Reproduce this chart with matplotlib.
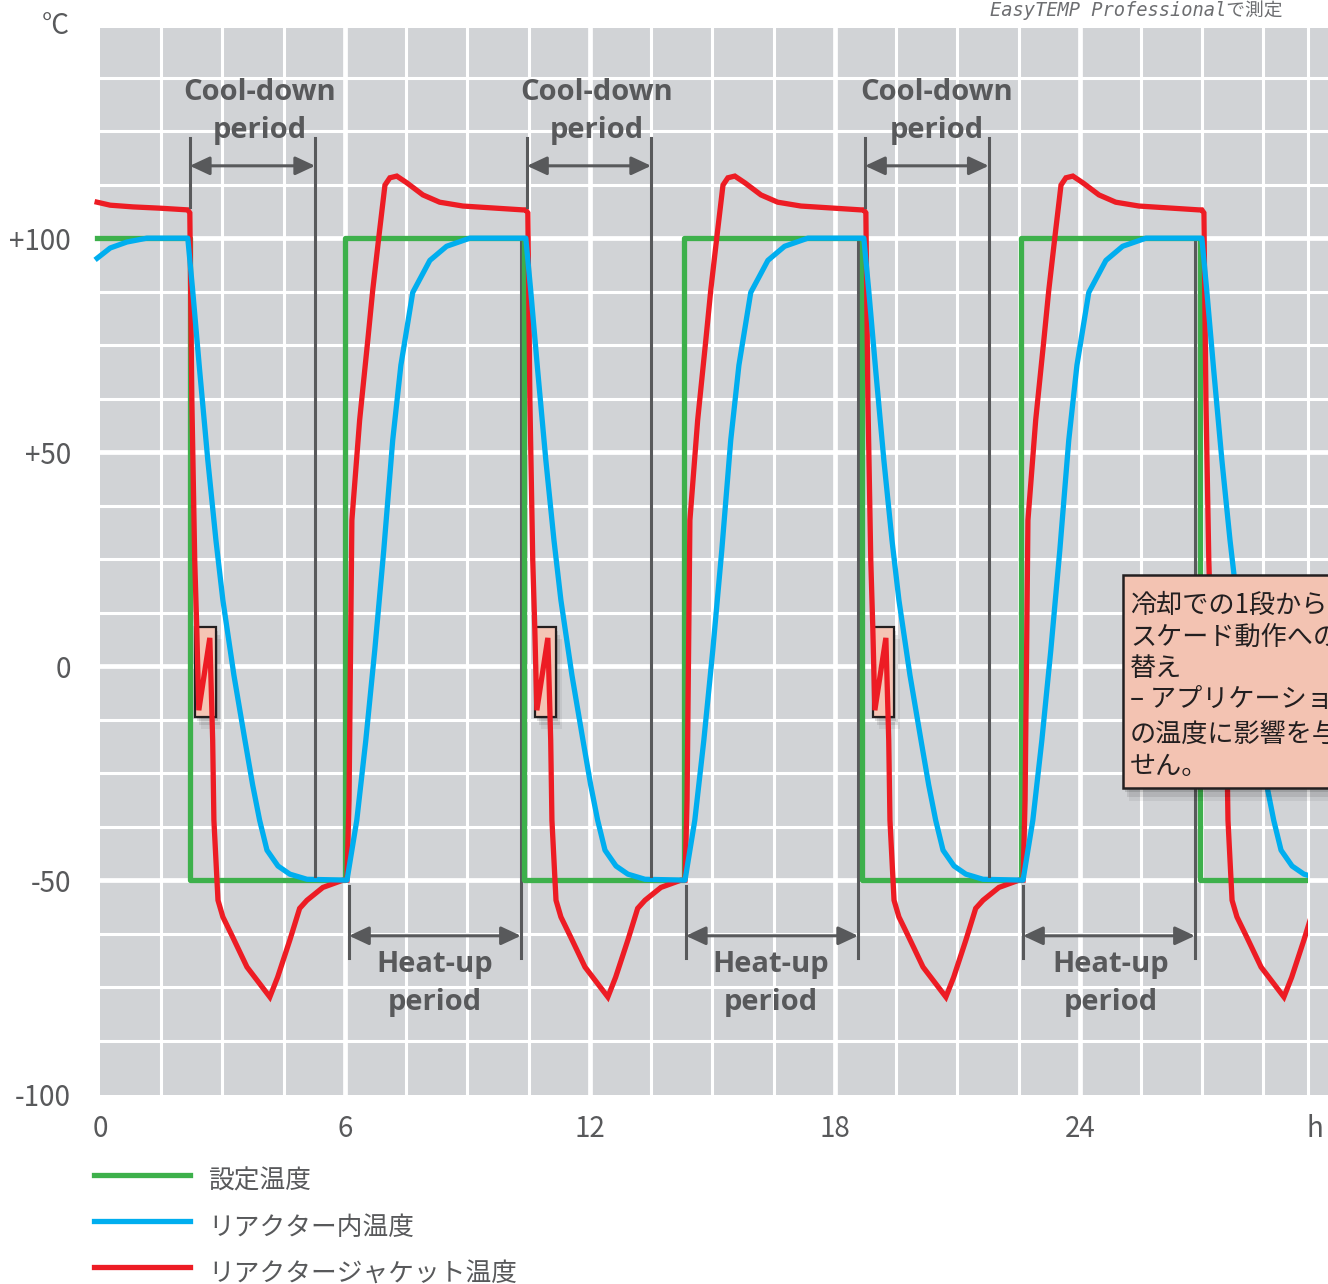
import numpy as np
import matplotlib
matplotlib.use("Agg")
import matplotlib.pyplot as plt
from matplotlib.patches import Rectangle
from matplotlib.lines import Line2D

plt.rcParams['font.family'] = ['Noto Sans CJK JP', 'DejaVu Sans']

# set temperature: switching times (h) and levels (degC)
set_t = [-0.07, 2.20, 6.00, 10.38, 14.30, 18.66, 22.56, 26.94, 29.58]
set_T = [100, -50, 100, -50, 100, -50, 100, -50, -50]

# start of each cool-down for the reactor / jacket curves (h)
cycle_start = [2.20, 10.48, 18.76, 27.04]
t_end = 29.58

# one cycle (h after start, degC)
blue_dt = [-0.05, 0.07, 0.24, 0.44, 0.64, 0.81, 1.08, 1.35, 1.54, 1.71, 1.89,
           2.16, 2.45, 2.87, 3.85, 4.09, 4.31, 4.53, 4.75, 4.97, 5.17, 5.46,
           5.88, 6.29, 6.86, 8.16]
blue_T = [100, 87.8, 69.2, 48.2, 29.4, 15.4, -2.1, -17.3, -27.8, -36.0, -43.0,
          -46.7, -48.6, -49.8, -50, -36.0, -17.4, 3.7, 27.0, 52.8, 70.3, 87.3,
          94.8, 98.1, 100, 100]

red_dt = [-0.05, 0.0, 0.05, 0.12, 0.17, 0.22, 0.49, 0.56, 0.59, 0.69, 0.81,
          1.05, 1.40, 1.96, 2.15, 2.45, 2.69, 2.87, 3.26, 3.75, 3.85, 3.90,
          3.97, 4.16, 4.36, 4.48, 4.65, 4.78, 4.90, 5.07, 5.32, 5.71, 6.12,
          6.69, 7.52, 8.16]
red_T = [106.6, 105.9, 62.2, 24.8, 8.9, -10.3, 6.6, -17.3, -36.0, -54.7, -58.6,
         -63.3, -70.3, -77.3, -72.7, -64.0, -56.6, -54.7, -51.7, -50.0, -50.0, -31.3,
         34.1, 57.5, 76.2, 87.8, 101.9, 112.4, 114.1, 114.5, 112.9, 110.1, 108.4,
         107.5, 107.0, 106.6]

# start of the chart, before the first cool-down
blue0_t = [-0.07, 0.25, 0.66, 1.15]
blue0_T = [95.3, 97.7, 99.1, 100.0]
red0_t = [-0.07, 0.25, 0.81, 1.47]
red0_T = [108.4, 107.7, 107.3, 107.0]

labels = ['設定温度', 'リアクター内温度', 'リアクタージャケット温度']
colors = ['#3db04b', '#00aeef', '#ed1c24']

cool_left = [2.20, 10.46, 18.74]
cool_right = [5.27, 13.50, 21.77]
cool_text_x = [3.92, 12.16, 20.49]
heat_left = [6.10, 14.35, 22.61]
heat_right = [10.31, 18.57, 26.82]
heat_text_x = [8.19, 16.43, 24.76]
box_x = [2.33, 10.65, 18.93]

note_lines = ['冷却での1段からカ', 'スケード動作への切り', '替え',
              '– アプリケーション', 'の温度に影響を与えま', 'せん。']
note_y = [14.3, 6.8, -0.5, -7.9, -15.9, -23.4]

grey = '#58595b'
bold = dict(fontsize=21, fontweight='bold', family=['Open Sans', 'DejaVu Sans'],
            color=grey, ha='center', va='center', zorder=7)
arrow = dict(arrowstyle='<|-|>,head_length=0.6,head_width=0.28', color=grey,
             lw=2.2, shrinkA=0, shrinkB=0, mutation_scale=20)


def build(t0, v0, dt, v):
    t = list(t0)
    T = list(v0)
    for s in cycle_start:
        t += [s + d for d in dt]
        T += list(v)
    return t, T


blue_t, blue_v = build(blue0_t, blue0_T, blue_dt, blue_T)
red_t, red_v = build(red0_t, red0_T, red_dt, red_T)

W, H = 1328, 1284
fig = plt.figure(figsize=(W / 100, H / 100), dpi=100)
ax = fig.add_axes([100 / W, 189 / H, 1228 / W, 1067 / H])
ax.set_facecolor('#d1d3d6')
ax.set_xlim(0, 30.08)
ax.set_ylim(-100.2, 149.1)
for s in ax.spines.values():
    s.set_visible(False)

# white grid
for x in list(np.arange(1.5, 29.0, 1.5)) + [29.6]:
    ax.axvline(x, color='white', lw=3.4 if abs(x % 6) < 1e-6 else 2.2, zorder=1)
for y in np.arange(-87.5, 150, 12.5):
    ax.axhline(y, color='white', lw=3.4 if abs(y % 50) < 1e-6 else 2.2, zorder=1)

ax.set_xticks([0, 6, 12, 18, 24, 29.76])
ax.set_xticklabels(['0', '6', '12', '18', '24', 'h'])
ax.set_yticks([-100, -50, 0, 50, 100])
ax.set_yticklabels(['-100', '-50', '0', '+50', '+100'])
ax.tick_params(axis='both', length=0, labelsize=20, labelcolor=grey)
ax.tick_params(axis='x', pad=14)
ax.tick_params(axis='y', pad=21)

l_set, = ax.plot(set_t, set_T, drawstyle='steps-post', color=colors[0], lw=3.8, zorder=3)
l_red, = ax.plot(red_t, red_v, color=colors[2], lw=3.8, zorder=4, solid_joinstyle='miter')
l_blue, = ax.plot(blue_t, blue_v, color=colors[1], lw=3.8, zorder=5)
for ln in (l_set, l_red, l_blue):
    ln.set_clip_path(Rectangle((-1, -200), 1 + t_end, 500, transform=ax.transData))

# small boxes where the jacket switches over
for bx in box_x:
    for i, a in enumerate([0.12, 0.09, 0.06]):
        ax.add_patch(Rectangle((bx + 0.05 * (i + 1), -11.9 - 0.9 * (i + 1)), 0.52, 21.0,
                               facecolor='black', edgecolor='none', alpha=a, zorder=3.5))
    ax.add_patch(Rectangle((bx, -11.9), 0.52, 21.0, facecolor='#f4c5b5',
                           edgecolor='#231f20', lw=1.6, zorder=3.6))

# cool-down / heat-up markers
for x0, x1, xt in zip(cool_left, cool_right, cool_text_x):
    ax.plot([x0, x0], [107.3, 123.3], color=grey, lw=2.2, zorder=6)
    ax.plot([x1, x1], [-49.1, 123.3], color=grey, lw=2.2, zorder=6)
    ax.annotate('', xy=(x1, 116.9), xytext=(x0, 116.9), zorder=6, arrowprops=arrow)
    ax.text(xt, 134.1, 'Cool-down', **bold)
    ax.text(xt, 125.2, 'period', **bold)

for x0, x1, xt in zip(heat_left, heat_right, heat_text_x):
    ax.plot([x0, x0], [-51.4, -68.2], color=grey, lw=2.2, zorder=6)
    ax.plot([x1, x1], [100.0, -68.2], color=grey, lw=2.2, zorder=2.8)
    ax.annotate('', xy=(x1, -63.0), xytext=(x0, -63.0), zorder=6, arrowprops=arrow)
    ax.text(xt, -69.8, 'Heat-up', **bold)
    ax.text(xt, -78.7, 'period', **bold)

# note box on the right (cut by the right edge as in the original)
for i, a in enumerate([0.12, 0.09, 0.06]):
    ax.add_patch(Rectangle((25.05 + 0.05 * (i + 1), -28.5 - 1.0 * (i + 1)), 6, 49.8,
                           facecolor='black', edgecolor='none', alpha=a, zorder=9,
                           clip_on=False))
ax.add_patch(Rectangle((25.05, -28.5), 6, 49.8, facecolor='#f3c3b2',
                       edgecolor='#231f20', lw=1.8, zorder=10, clip_on=False))
for line, y in zip(note_lines, note_y):
    ax.text(25.23, y, line, ha='left', va='center', fontsize=18.8, color='#231f20',
            zorder=11, clip_on=False)

# unit and source
fig.text(70 / W, 1 - 26 / H, '°C', ha='right', va='center', fontsize=20, color=grey)
fig.text(1282 / W, 1 - 16 / H, 'EasyTEMP Professionalで測定', ha='right', va='baseline',
         fontsize=13.5, style='italic', color='#6d6e71',
         family=['DejaVu Sans Mono', 'Noto Sans CJK JP'])

# legend
for lab, c, py in zip(labels, colors, [1175, 1221, 1267]):
    fig.add_artist(Line2D([94 / W, 190 / W], [1 - py / H, 1 - py / H], color=c, lw=3.8))
    fig.text(208 / W, 1 - (py + 7) / H, lab, ha='left', va='center', fontsize=18.5,
             color=grey)

fig.savefig('out.png', dpi=100)
